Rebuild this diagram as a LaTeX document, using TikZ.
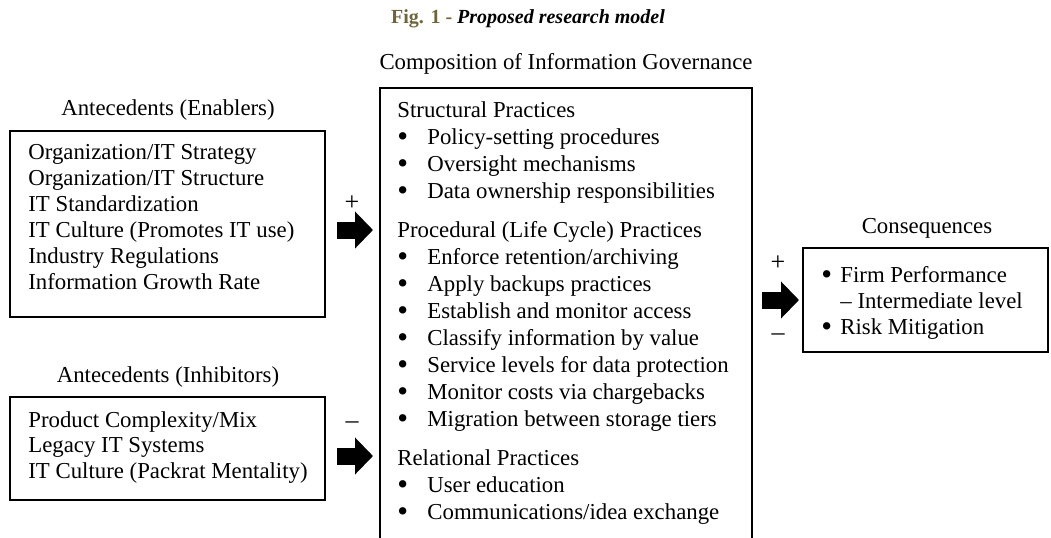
\documentclass[tikz,border=0pt]{standalone}
\usepackage{fontspec}
\setmainfont{Liberation Serif}
\usetikzlibrary{arrows.meta,fit}
\definecolor{figolive}{RGB}{110,101,58}
\newcommand*{\govLeft}{380}
\newcommand*{\govRight}{752}
\newcommand*{\govTop}{88}
\newcommand*{\dotmark}{\raisebox{-.08em}{\scalebox{1.35}{\textbullet}}}
\newcommand*{\bul}{\makebox[15pt][l]{\dotmark}}
\newcommand*{\cbul}{\makebox[9.5pt][l]{\dotmark}}
\tikzset{
	box/.style={draw, line width=.8pt, inner sep=0pt},
	txt/.style={font=\fontsize{11.4}{13.5}\selectfont, inner sep=0pt},
	list/.style={txt, align=left, anchor=north west},
	head/.style={txt, anchor=base},
	sign/.style={font=\fontsize{13}{14}\selectfont, inner sep=0pt},
	fat/.style={line width=8.5pt, -{Triangle[length=9pt,width=18pt]}}
}
\begin{document}
\begin{tikzpicture}[x=.5pt, y=-.5pt]
	\useasboundingbox (0,0) rectangle (1051,537);
	\clip (0,0) rectangle (1051,537);
	
	\node[head, font=\fontsize{10}{12}\selectfont\bfseries] (title) at (528,23) {\textcolor{figolive}{Fig. 1 -} \textit{Proposed research model}};
	
	\node[head] (comphead) at (566,69) {Composition of Information Governance};
	\node[head] (enabhead) at (168,115) {Antecedents (Enablers)};
	\node[head] (inhibhead) at (168,382) {Antecedents (Inhibitors)};
	\node[head] (conshead) at (927,233) {Consequences};
	
	\node[box, fit={(10,131) (325,317)}] (enab) {};
	\node[box, fit={(10,397) (325,500)}] (inhib) {};
	\node[box, fit={(\govLeft,\govTop) (\govRight,560)}] (gov) {};
	\node[box, fit={(803,248) (1048,352)}] (cons) {};
	
	\node[list, font=\fontsize{11.4}{13}\selectfont] (enablist) at (28,144) {Organization/IT Strategy\\Organization/IT Structure\\IT Standardization\\IT Culture (Promotes IT use)\\Industry Regulations\\Information Growth Rate};
	\node[list, font=\fontsize{11.4}{12.75}\selectfont] (inhiblist) at (28,411) {Product Complexity/Mix\\Legacy IT Systems\\IT Culture (Packrat Mentality)};
	\node[list] (govlist) at (397,101) {Structural Practices\\
		\bul Policy-setting procedures\\
		\bul Oversight mechanisms\\
		\bul Data ownership responsibilities\\[6pt]
		Procedural (Life Cycle) Practices\\
		\bul Enforce retention/archiving\\
		\bul Apply backups practices\\
		\bul Establish and monitor access\\
		\bul Classify information by value\\
		\bul Service levels for data protection\\
		\bul Monitor costs via chargebacks\\
		\bul Migration between storage tiers\\[6pt]
		Relational Practices\\
		\bul User education\\
		\bul Communications/idea exchange};
	\node[list, font=\fontsize{11.4}{13}\selectfont] (conslist) at (821,266) {\cbul Firm Performance\\\hspace*{9.5pt}– Intermediate level\\\cbul Risk Mitigation};
	
	% signs and block arrows
	\node[sign] (plusE) at (352,203) {+};
	\node[sign] (minusI) at (352,425) {–};
	\node[sign] (plusC) at (778,263) {+};
	\node[sign] (minusC) at (778,337) {–};
	
	\coordinate (e1) at (337,230);
	\coordinate (e2) at (373,230);
	\coordinate (i1) at (337,456);
	\coordinate (i2) at (373,456);
	\coordinate (c1) at (762,300);
	\coordinate (c2) at (799,300);
	\draw[fat] (e1) -- (e2);
	\draw[fat] (i1) -- (i2);
	\draw[fat] (c1) -- (c2);
\end{tikzpicture}
\end{document}
